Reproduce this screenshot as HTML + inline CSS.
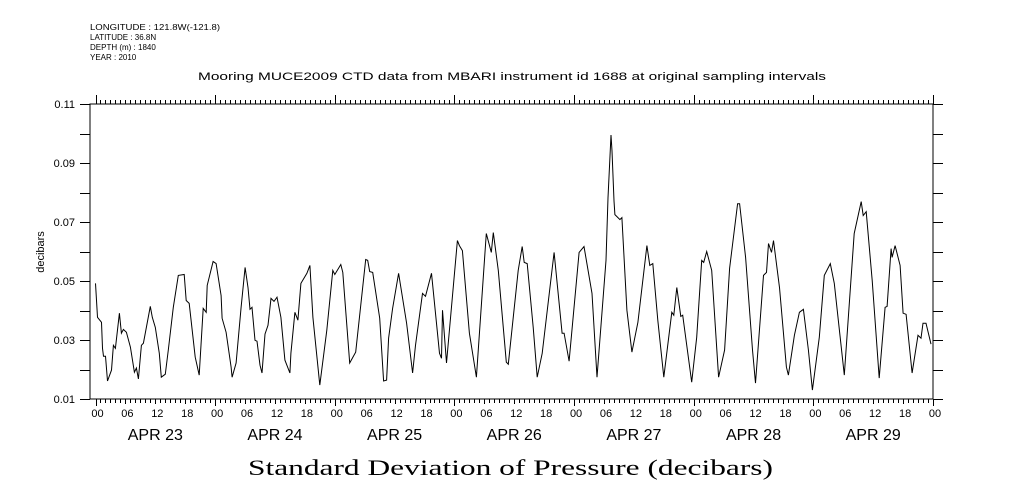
<!DOCTYPE html>
<html><head><meta charset="utf-8"><style>
body{margin:0;background:#fff;width:1009px;height:504px;overflow:hidden}
svg{display:block}
text{font-family:"Liberation Sans",sans-serif;fill:#000}
</style></head><body>
<svg id="chart" width="1009" height="504" viewBox="0 0 1009 504" xmlns="http://www.w3.org/2000/svg">
<g font-size="8">
<text x="90" y="30" textLength="130" lengthAdjust="spacingAndGlyphs">LONGITUDE : 121.8W(-121.8)</text>
<text x="90" y="40">LATITUDE : 36.8N</text>
<text x="90" y="50">DEPTH (m) : 1840</text>
<text x="90" y="60">YEAR : 2010</text>
</g>
<text x="198" y="80" textLength="628" lengthAdjust="spacingAndGlyphs" font-size="11">Mooring MUCE2009 CTD data from MBARI instrument id 1688 at original sampling intervals</text>
<text transform="translate(44,252) rotate(-90)" text-anchor="middle" font-size="11">decibars</text>
<text x="248" y="475" textLength="525" lengthAdjust="spacingAndGlyphs" font-size="22" style="font-family:'Liberation Serif',serif">Standard Deviation of Pressure (decibars)</text>
<rect x="90" y="104" width="843" height="295" fill="none" stroke="#000" stroke-width="1"/>
<g id="axes"></g>
<path id="series" fill="none" stroke="#000" stroke-width="1"/>
</svg>
<script>
const hours=[0,0.4,1.2,1.4,1.6,2.0,2.4,3.2,3.6,4.0,4.8,5.2,5.6,6.2,7.0,7.8,8.2,8.6,9.2,9.6,11.0,11.4,12.0,12.8,13.2,14.0,14.6,15.6,16.6,17.8,18.2,18.8,20.0,20.8,21.6,22.2,22.4,23.6,24.2,25.2,25.4,26.2,27.2,27.4,28.2,29.2,30.0,30.6,31.0,31.4,32.0,32.4,33.0,33.4,34.0,34.6,35.2,35.8,36.4,37.2,38.0,39.0,39.2,40.0,40.6,41.2,42.4,43.0,43.6,45.0,46.4,47.6,48.0,49.2,49.6,51.0,52.2,54.2,54.6,55.0,55.6,57.0,57.8,58.4,58.8,59.6,60.8,62.4,63.6,64.2,65.6,66.2,67.4,69.0,69.4,69.6,70.4,72.6,73.0,73.6,75.0,76.4,78.4,79.4,79.8,80.8,82.4,82.8,84.8,85.6,86.0,86.6,87.8,88.6,89.6,92.0,93.6,94.0,95.0,97.0,98.0,99.6,100.6,102.4,102.8,103.4,103.6,104.0,104.2,105.2,105.6,106.6,107.6,108.8,110.6,111.2,111.8,112.8,114.0,115.6,116.0,116.6,117.4,117.8,119.6,120.6,121.6,122.0,122.6,123.6,125.0,126.2,127.2,128.8,129.2,130.4,131.8,132.4,134.0,134.6,135.0,135.6,136.0,137.2,138.6,139.0,140.2,141.2,142.0,143.0,143.8,145.2,146.2,147.4,148.2,150.2,152.2,153.6,154.0,154.6,155.8,157.2,158.4,158.8,159.6,159.8,160.4,161.4,162.0,162.6,163.8,165.0,165.6,166.0,166.6,167.6];
const values=[0.0492,0.0377,0.0360,0.0272,0.0245,0.0245,0.0161,0.0198,0.0282,0.0272,0.0391,0.0323,0.0336,0.0326,0.0276,0.0191,0.0205,0.0168,0.0282,0.0289,0.0414,0.0377,0.0343,0.0255,0.0174,0.0184,0.0266,0.0411,0.0519,0.0522,0.0434,0.0424,0.0242,0.0181,0.0407,0.0394,0.0485,0.0566,0.0559,0.0451,0.0374,0.0326,0.0208,0.0174,0.0222,0.0411,0.0546,0.0478,0.0404,0.0411,0.0299,0.0296,0.0215,0.0188,0.0320,0.0350,0.0441,0.0431,0.0445,0.0377,0.0232,0.0188,0.0255,0.0394,0.0367,0.0492,0.0526,0.0553,0.0377,0.0147,0.0333,0.0536,0.0522,0.0556,0.0529,0.0222,0.0259,0.0573,0.0570,0.0532,0.0529,0.0374,0.0161,0.0164,0.0306,0.0407,0.0526,0.0357,0.0188,0.0282,0.0458,0.0448,0.0526,0.0255,0.0238,0.0401,0.0222,0.0637,0.0620,0.0603,0.0323,0.0174,0.0661,0.0597,0.0664,0.0536,0.0225,0.0218,0.0536,0.0617,0.0563,0.0559,0.0343,0.0174,0.0255,0.0597,0.0323,0.0323,0.0228,0.0597,0.0617,0.0458,0.0174,0.0570,0.0782,0.0995,0.0941,0.0772,0.0725,0.0708,0.0715,0.0401,0.0259,0.0360,0.0620,0.0553,0.0559,0.0367,0.0174,0.0394,0.0384,0.0478,0.0380,0.0384,0.0157,0.0309,0.0570,0.0563,0.0600,0.0536,0.0174,0.0266,0.0543,0.0762,0.0762,0.0580,0.0266,0.0154,0.0519,0.0529,0.0627,0.0597,0.0637,0.0478,0.0208,0.0181,0.0316,0.0394,0.0404,0.0266,0.0130,0.0309,0.0519,0.0559,0.0492,0.0181,0.0661,0.0769,0.0722,0.0735,0.0502,0.0171,0.0411,0.0414,0.0610,0.0580,0.0620,0.0553,0.0391,0.0387,0.0188,0.0316,0.0306,0.0357,0.0357,0.0286];
const yTicks=[0.01,0.03,0.05,0.07,0.09,0.11];
const hourLabels=["00","06","12","18"];
const dayLabels=["APR 23","APR 24","APR 25","APR 26","APR 27","APR 28","APR 29"];

const X0=95.5,X1=933,H=168,YT=104,YB=399,VMIN=0.01,VMAX=0.11;
const xs=h=>X0+(X1-X0)*h/H;
const ys=v=>YB-(YB-YT)*(v-VMIN)/(VMAX-VMIN);
const NS="http://www.w3.org/2000/svg";
const ax=document.getElementById('axes');
function line(x1,y1,x2,y2){const l=document.createElementNS(NS,'line');l.setAttribute('x1',x1);l.setAttribute('y1',y1);l.setAttribute('x2',x2);l.setAttribute('y2',y2);l.setAttribute('stroke','#000');l.setAttribute('stroke-width','1');ax.appendChild(l);return l;}
function txt(x,y,s,size,anchor){const t=document.createElementNS(NS,'text');t.setAttribute('x',x);t.setAttribute('y',y);t.setAttribute('font-size',size);t.setAttribute('text-anchor',anchor);t.textContent=s;ax.appendChild(t);return t;}
for(let i=0;i<=10;i++){
  const v=VMIN+i*0.01,y=Math.round(ys(v))+0.5;
  const l=line(80,y,90,y);
  
  
  const r=line(933,y,943,y);
  
  
}
yTicks.forEach(v=>{const t=txt(75,ys(v)+4,v.toFixed(2),11,'end');
  
  });
for(let h=0;h<=H;h++){
  const x=Math.round(xs(h))+0.5;
  const big=h%24===0,mid=h%6===0;
  const tl=line(x,YT,x,YT-(big?9:4));
  
  
  const bl=line(x,YB,x,YB+(big?7:mid?5:4));
  
  
  if(mid){const t=txt(xs(h)+2,417,hourLabels[(h%24)/6],11,'middle');
    
    }
}
dayLabels.forEach((d,i)=>{const t=txt(xs(i*24+12),440,d,16,'middle');
  
  });
document.getElementById('series').setAttribute('d',hours.map((h,i)=>(i?'L':'M')+xs(h).toFixed(1)+' '+ys(values[i]).toFixed(1)).join(''));
</script>
</body></html>
